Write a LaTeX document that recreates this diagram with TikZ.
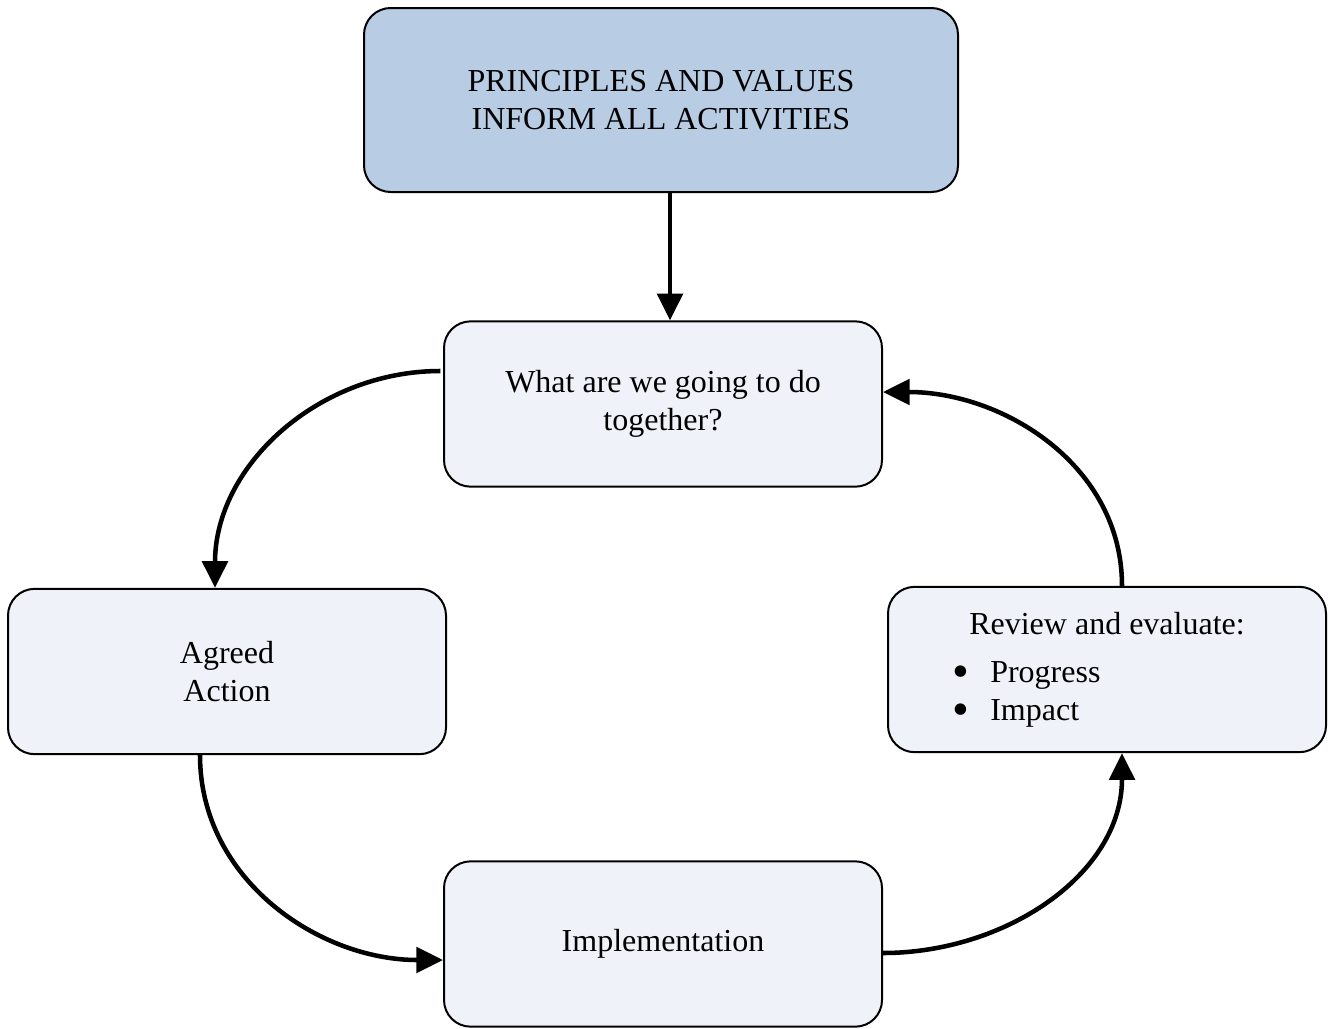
\documentclass[tikz,border=0pt]{standalone}
\usepackage{fontspec}
\setmainfont{Liberation Serif}
\usetikzlibrary{arrows.meta}
\definecolor{topfill}{HTML}{B8CCE4}
\definecolor{boxfill}{HTML}{EFF3F9}
\newcommand{\bigbul}{\smash{\raisebox{-3.6pt}{\scalebox{1.5}{\textbullet}}}}
\tikzset{
  box/.style={draw=black, line width=1.5pt, rounded corners=20pt, fill=boxfill,
    align=center, font=\fontsize{24}{28.5}\selectfont, inner sep=0pt,
    minimum width=328.5pt, minimum height=124pt},
  topbox/.style={box, fill=topfill, minimum width=445.5pt, minimum height=138pt},
  conn/.style={line width=3.4pt, -{Triangle[length=20pt,width=19pt]}}
}
\begin{document}
\begin{tikzpicture}[x=0.75pt,y=-0.75pt]
\useasboundingbox (0,0) rectangle (1330,1028);
\node[topbox] (top) at (661,100) {PRINCIPLES AND VALUES\\INFORM ALL ACTIVITIES};
\node[box] (what) at (663,404) {What are we going to do\\together?};
\node[box] (agreed) at (227,671.5) {Agreed\\Action};
\node[box] (impl) at (663,944) {Implementation};
\node[box, align=left] (review) at (1107,669.5) {Review and evaluate:\\[7.5pt]
  \hspace*{15.75pt}\llap{\bigbul\hspace{16pt}}Progress\\
  \hspace*{15.75pt}\llap{\bigbul\hspace{16pt}}Impact};
\draw[conn] ([xshift=6.75pt]top.south) -- ([xshift=5.25pt]what.north);
\draw[conn] ([xshift=-2pt,yshift=24.75pt]what.west) to[out=180,in=90] ([xshift=-9pt]agreed.north);
\draw[conn] ([xshift=-20.25pt]agreed.south) to[out=-90,in=180] ([yshift=-12pt]impl.west);
\draw[conn] ([yshift=-6.75pt]impl.east) to[out=0,in=-90] ([xshift=11.25pt]review.south);
\draw[conn] ([xshift=11.25pt]review.north) to[out=90,in=0] ([yshift=9pt]what.east);
\end{tikzpicture}
\end{document}
